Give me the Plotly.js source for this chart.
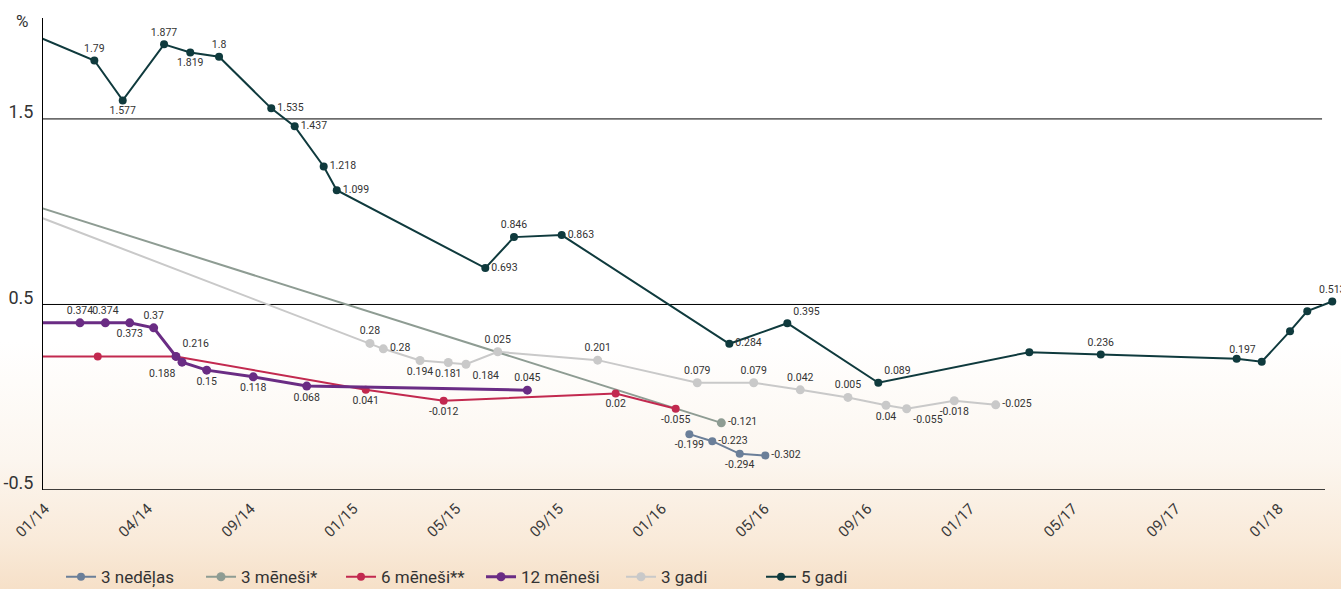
<!DOCTYPE html>
<html>
<head>
<meta charset="utf-8">
<script src="https://cdn.plot.ly/plotly-3.0.1.min.js"></script>
<style>
  html, body { margin: 0; padding: 0; }
  body {
    width: 1341px; height: 589px; overflow: hidden;
    background: linear-gradient(to bottom, #ffffff 0%, #ffffff 58%, #fcf6ef 78%, #f9ead9 92%, #f6e0c8 100%);
  }
  #chart { width: 1341px; height: 589px; }
</style>
</head>
<body>
<div id="chart"></div>
<script>
// ---- Data (x = position in tick intervals, 0 = "01/14") ----
const tickLabels = ['01/14','04/14','09/14','01/15','05/15','09/15','01/16','05/16','09/16','01/17','05/17','09/17','01/18'];
const seriesNames = ['3 nedēļas', '3 mēneši*', '6 mēneši**', '12 mēneši', '3 gadi', '5 gadi'];

const w3X = [6.268, 6.491, 6.758, 7.007];
const w3Y = [-0.199, -0.237, -0.305, -0.314];
const w3Lbl = ['-0.199', '-0.223', '-0.294', '-0.302'];

const m3X = [-0.3, 6.579];
const m3Y = [1.066, -0.138];
const m3Lbl = ['', '-0.121'];

const m6X = [-0.3, 0.513, 1.274, 3.12, 3.878, 5.551, 6.135];
const m6Y = [0.220, 0.220, 0.220, 0.040, -0.019, 0.020, -0.062];
const m6Lbl = ['', '', '', '0.041', '-0.012', '0.02', '-0.055'];

const m12X = [-0.3, 0.34, 0.587, 0.824, 1.057, 1.274, 1.333, 1.573, 2.026, 2.546, 4.692];
const m12Y = [0.401, 0.401, 0.401, 0.401, 0.374, 0.220, 0.189, 0.146, 0.110, 0.060, 0.038];
const m12Lbl = ['', '0.374', '0.374', '0.373', '0.37', '0.216', '0.188', '0.15', '0.118', '0.068', '0.045'];

const y3X = [-0.3, 3.161, 3.291, 3.648, 3.923, 4.095, 4.404, 5.376, 6.345, 6.894, 7.347, 7.811, 8.181, 8.382, 8.845, 9.248];
const y3Y = [1.024, 0.290, 0.261, 0.198, 0.187, 0.178, 0.245, 0.200, 0.078, 0.078, 0.040, -0.001, -0.043, -0.062, -0.019, -0.041];
const y3Lbl = ['', '0.28', '0.28', '0.194', '0.181', '0.184', '0.025', '0.201', '0.079', '0.079', '0.042', '0.005', '0.04', '-0.055', '-0.018', '-0.025'];

const y5X = [-0.3, 0.48, 0.756, 1.158, 1.413, 1.693, 2.201, 2.429, 2.711, 2.838, 4.283, 4.562, 5.026, 6.657, 7.221, 8.106, 9.575, 10.27, 11.592, 11.836, 12.111, 12.279, 12.522];
const y5Y = [1.997, 1.815, 1.600, 1.902, 1.858, 1.835, 1.557, 1.460, 1.244, 1.116, 0.696, 0.863, 0.874, 0.288, 0.399, 0.078, 0.243, 0.230, 0.207, 0.191, 0.356, 0.464, 0.516];
const y5Lbl = ['', '1.79', '1.577', '1.877', '1.819', '1.8', '1.535', '1.437', '1.218', '1.099', '0.693', '0.846', '0.863', '0.284', '0.395', '0.089', '', '0.236', '', '0.197', '', '', '0.513'];

// ---- Label placement (style) ----
const w3Pos = ['bottom center', 'middle right', 'bottom center', 'middle right'];
const m3Pos = ['middle right', 'middle right'];
const m6Pos = ['top center', 'top center', 'top center', 'bottom center', 'bottom center', 'bottom center', 'bottom center'];
const m12Pos = ['top center', 'top center', 'top center', 'bottom center', 'top center', 'top right', 'bottom left', 'bottom center', 'bottom center', 'bottom center', 'top center'];
const y3Pos = ['top center', 'top center', 'middle right', 'bottom center', 'bottom center', 'bottom right', 'top center', 'top center', 'top center', 'top center', 'top center', 'top center', 'bottom center', 'bottom right', 'bottom center', 'middle right'];
const y5Pos = ['top center', 'top center', 'bottom center', 'top center', 'bottom center', 'top center', 'middle right', 'middle right', 'middle right', 'middle right', 'middle right', 'top center', 'middle right', 'middle right', 'top right', 'top right', 'top center', 'top center', 'top center', 'top left', 'top center', 'top center', 'top center'];

const FONT = 'Roboto, "Liberation Sans", sans-serif';
const labelFont = { family: FONT, size: 10.5, color: '#333333' };

function mk(name, x, y, lbl, pos, color, lw, ms) {
  return {
    type: 'scatter', mode: 'lines+markers+text', name: name,
    x: x, y: y, text: lbl, textposition: pos, textfont: labelFont,
    line: { color: color, width: lw },
    marker: { color: color, size: ms },
    hoverinfo: 'skip', cliponaxis: true
  };
}

const traces = [
  mk(seriesNames[0], w3X, w3Y, w3Lbl, w3Pos, '#6b7f99', 2, 8),
  mk(seriesNames[1], m3X, m3Y, m3Lbl, m3Pos, '#8e9c93', 2, 9),
  mk(seriesNames[2], m6X, m6Y, m6Lbl, m6Pos, '#c2294f', 2, 8),
  mk(seriesNames[3], m12X, m12Y, m12Lbl, m12Pos, '#6a2c84', 3, 9),
  mk(seriesNames[4], y3X, y3Y, y3Lbl, y3Pos, '#c9c9c9', 2, 9),
  mk(seriesNames[5], y5X, y5Y, y5Lbl, y5Pos, '#0f3a3d', 2, 8)
];

const gridEnd = 0.9854;
const layout = {
  width: 1341, height: 589,
  margin: { l: 43, r: 0, t: 18, b: 99 },
  paper_bgcolor: 'rgba(0,0,0,0)',
  plot_bgcolor: 'rgba(0,0,0,0)',
  font: { family: FONT, color: '#333333' },
  showlegend: true,
  legend: {
    orientation: 'h', xref: 'container', yref: 'container',
    x: 0.0455, y: 0.02, xanchor: 'left', yanchor: 'middle',
    font: { family: FONT, size: 17, color: '#333333' },
    entrywidth: 95, entrywidthmode: 'pixels',
    bgcolor: 'rgba(0,0,0,0)'
  },
  xaxis: {
    range: [-0.0195, 12.607],
    tickvals: tickLabels.map((_, i) => i),
    ticktext: tickLabels,
    tickangle: -45,
    ticklabelstandoff: 6,
    tickfont: { family: FONT, size: 15, color: '#3a3a3a' },
    showgrid: false, zeroline: false, showline: false, ticks: ''
  },
  yaxis: {
    range: [-0.5, 2.044],
    tickvals: [-0.5, 0.5, 1.5],
    ticktext: ['-0.5', '0.5', '1.5'],
    tickfont: { family: FONT, size: 18, color: '#333333' },
    ticklabelshift: -7,
    ticklabelstandoff: 5,
    showgrid: false, zeroline: false,
    showline: true, linecolor: '#000000', linewidth: 1, ticks: ''
  },
  shapes: [
    { type: 'line', xref: 'paper', yref: 'y', x0: 0, x1: gridEnd, y0: 1.5, y1: 1.5, line: { color: '#000', width: 1 }, layer: 'below' },
    { type: 'line', xref: 'paper', yref: 'y', x0: 0, x1: gridEnd, y0: 0.5, y1: 0.5, line: { color: '#000', width: 1 }, layer: 'below' },
    { type: 'line', xref: 'paper', yref: 'y', x0: 0, x1: 0.9877, y0: -0.5, y1: -0.5, line: { color: '#000', width: 1.5 }, layer: 'below' }
  ],
  annotations: [
    { text: '%', xref: 'paper', yref: 'paper', x: -0.01, y: 1.0, xanchor: 'right', yanchor: 'middle', yshift: -3, showarrow: false, font: { family: FONT, size: 17, color: '#333333' } }
  ]
};

Plotly.newPlot('chart', traces, layout, { displayModeBar: false, staticPlot: true });
</script>
</body>
</html>
